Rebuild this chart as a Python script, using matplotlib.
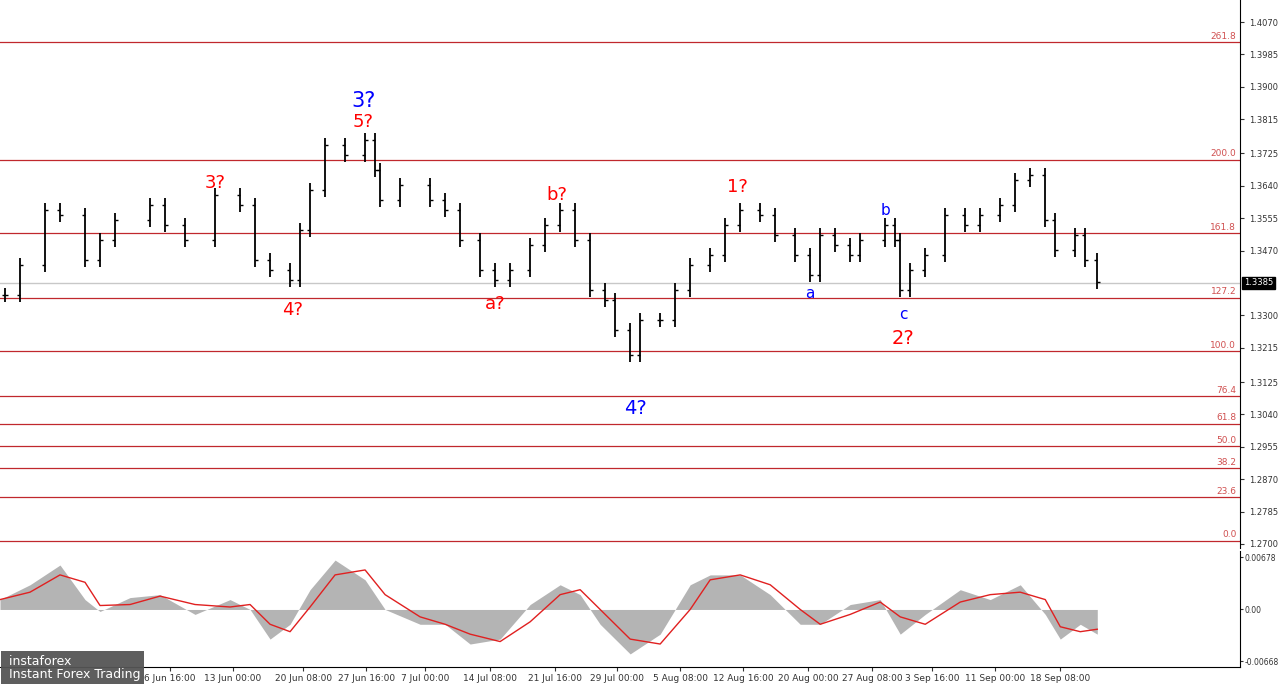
import matplotlib
matplotlib.use("Agg")
from matplotlib import pyplot
import pandas

# price path (bar position, close)
bar_x = [5, 20, 45, 60, 85, 100, 115, 150, 165, 185, 215, 240, 255, 270, 290, 300, 310, 325, 345,
         365, 375, 380, 400, 430, 445, 460, 480, 495, 510, 530, 545, 560, 575, 590, 605, 615, 630,
         640, 660, 675, 690, 710, 725, 740, 760, 775, 795, 810, 820, 835, 850, 860, 885, 895, 900,
         910, 925, 945, 965, 980, 1000, 1015, 1030, 1045, 1055, 1075, 1085, 1097]
closes = [1.3353, 1.3432, 1.3577, 1.3563, 1.3445, 1.3498, 1.3550, 1.3590, 1.3537, 1.3498, 1.3616,
          1.3590, 1.3445, 1.3419, 1.3393, 1.3524, 1.3629, 1.3747, 1.3721, 1.3760, 1.3682, 1.3603,
          1.3642, 1.3603, 1.3577, 1.3498, 1.3419, 1.3393, 1.3419, 1.3485, 1.3537, 1.3577, 1.3498,
          1.3367, 1.3340, 1.3262, 1.3196, 1.3288, 1.3288, 1.3367, 1.3432, 1.3458, 1.3537, 1.3577,
          1.3563, 1.3511, 1.3458, 1.3406, 1.3511, 1.3485, 1.3458, 1.3498, 1.3537, 1.3498, 1.3367,
          1.3419, 1.3458, 1.3563, 1.3537, 1.3563, 1.3590, 1.3655, 1.3668, 1.3550, 1.3472, 1.3511,
          1.3445, 1.3388]

fib_levels = [1.4017, 1.3708, 1.3516, 1.3346, 1.3206, 1.3088, 1.3015, 1.2957, 1.2899, 1.2823, 1.2708]
fib_labels = ['261.8', '200.0', '161.8', '127.2', '100.0', '76.4', '61.8', '50.0', '38.2', '23.6', '0.0']
price_ticks = [1.4070, 1.3985, 1.3900, 1.3815, 1.3725, 1.3640, 1.3555, 1.3470, 1.3300, 1.3215,
               1.3125, 1.3040, 1.2955, 1.2870, 1.2785, 1.2700]
last_price = 1.3385

date_x = [170, 233, 303, 366, 425, 490, 555, 617, 680, 743, 808, 872, 932, 995, 1060]
date_labels = ['6 Jun 16:00', '13 Jun 00:00', '20 Jun 08:00',
               '27 Jun 16:00', '7 Jul 00:00', '14 Jul 08:00', '21 Jul 16:00', '29 Jul 00:00',
               '5 Aug 08:00', '12 Aug 16:00', '20 Aug 00:00', '27 Aug 08:00', '3 Sep 16:00',
               '11 Sep 00:00', '18 Sep 08:00']

macd_x = [0, 30, 60, 85, 100, 130, 160, 195, 230, 250, 270, 290, 310, 335, 365, 385, 420, 445, 470,
          500, 530, 560, 580, 600, 630, 660, 690, 710, 740, 770, 800, 820, 850, 880, 900, 925, 960,
          990, 1020, 1045, 1060, 1080, 1097]
macd = [0.00128, 0.0032, 0.00576, 0.00128, -0.00026, 0.00154, 0.00192, -0.00064, 0.00128, 0.0,
        -0.00384, -0.00192, 0.00256, 0.0064, 0.00384, 0.0, -0.00192, -0.00192, -0.00448, -0.00384,
        0.00064, 0.0032, 0.00192, -0.00192, -0.00576, -0.0032, 0.0032, 0.00448, 0.00448, 0.00192,
        -0.00192, -0.00192, 0.00064, 0.00128, -0.0032, -0.00064, 0.00256, 0.00128, 0.0032, -0.00064,
        -0.00384, -0.00192, -0.0032]

# wave labels: text, x, price, colour, size
waves = [('3?', 215, 1.3647, 'red', 13), ('5?', 363, 1.3807, 'red', 13), ('3?', 363, 1.3862, 'blue', 15),
         ('4?', 292, 1.3313, 'red', 13), ('a?', 495, 1.3331, 'red', 13), ('b?', 557, 1.3615, 'red', 13),
         ('4?', 635, 1.3055, 'blue', 14), ('1?', 737, 1.3637, 'red', 13), ('a', 810, 1.3357, 'blue', 11),
         ('b', 885, 1.3574, 'blue', 11), ('c', 903, 1.3302, 'blue', 11), ('2?', 903, 1.3240, 'red', 14)]

fig = pyplot.figure(figsize=(12.8, 6.89), dpi=100)
ax = fig.add_axes([0.0, 0.2046, 0.969, 0.7954])
ax2 = fig.add_axes([0.0, 0.032, 0.969, 0.168])

for lvl, lab in zip(fib_levels, fib_labels):
    ax.axhline(lvl, color='#c0282d', lw=0.9)
    ax.text(1236, lvl + 0.0004, lab, color='#d05050', fontsize=6.5, ha='right', va='bottom')
ax.axhline(last_price, color='#c8c8c8', lw=1)

prev = closes[0]
for x, c in zip(bar_x, closes):
    lo = min(prev, c) - 0.0018
    hi = max(prev, c) + 0.0018
    ax.vlines(x, lo, hi, color='black', lw=1.3)
    ax.hlines(prev, x - 3, x, color='black', lw=1)
    ax.hlines(c, x, x + 3, color='black', lw=1)
    prev = c

for t, x, p, col, s in waves:
    ax.text(x, p, t, color=col, fontsize=s, ha='center', va='center')

ax.set_xlim(0, 1240)
ax.set_ylim(1.26893, 1.41278)
ax.yaxis.tick_right()
ax.set_yticks(price_ticks)
ax.set_yticklabels(['%.4f' % v for v in price_ticks])
ax.tick_params(axis='y', labelsize=6, length=3, colors='#333333')
ax.set_xticks([])
ax.text(1.003, last_price, '%.4f' % last_price, transform=ax.get_yaxis_transform(), color='white',
        fontsize=6, va='center', ha='left',
        bbox=dict(boxstyle='square,pad=0.2', fc='black', ec='black'))
for s in ['top', 'left', 'bottom']:
    ax.spines[s].set_visible(False)

# MACD panel
signal = pandas.Series(macd).rolling(2, min_periods=1).mean()
ax2.fill_between(macd_x, 0, macd, color='#b4b4b4', lw=0)
ax2.plot(macd_x, signal, color='#e02020', lw=1)
ax2.set_xlim(0, 1240)
ax2.set_ylim(-0.00745, 0.00755)
ax2.yaxis.tick_right()
ax2.set_yticks([0.00678, 0.0, -0.00668])
ax2.set_yticklabels(['0.00678', '0.00', '-0.00668'])
ax2.tick_params(axis='y', labelsize=5.5, length=2, colors='#333333', pad=1)
ax2.set_xticks(date_x)
ax2.set_xticklabels(date_labels)
ax2.tick_params(axis='x', labelsize=6.5, length=3, colors='#333333', pad=2)
for s in ['top', 'left']:
    ax2.spines[s].set_visible(False)

fig.text(0.004, 0.012, ' instaforex       \n Instant Forex Trading', color='white', fontsize=9,
         va='bottom', ha='left', linespacing=1.0,
         bbox=dict(boxstyle='square,pad=0.3', fc='#555555', ec='none', alpha=0.95))

pyplot.savefig('out.png', dpi=100)
